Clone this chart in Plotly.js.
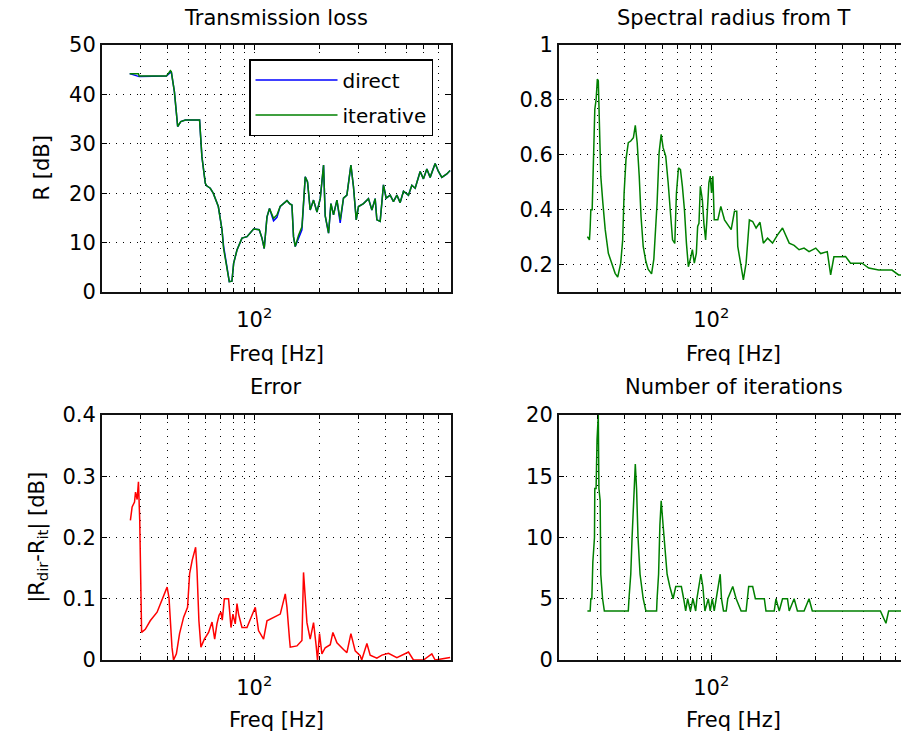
<!DOCTYPE html>
<html>
<head>
<meta charset="utf-8">
<script src="https://cdn.plot.ly/plotly-3.0.1.min.js"></script>
<style>
html,body{margin:0;padding:0;background:#fff;overflow:hidden;width:901px;height:739px;}
#chart{width:960px;height:739px;}
</style>
</head>
<body>
<div id="chart"></div>
<script>
// ---- Transmission loss (top-left) ----
var freqR = [26.8, 29.4, 29.6, 39.5, 41.2, 41.6, 43, 44.5, 46, 48.3, 56.1, 57.5, 59.6, 60.5, 62.8, 64.8, 68.4, 71.1, 72.3, 75, 76.8, 79, 80.4, 83.3, 87.8, 92.6, 99.3, 105.4, 108.5, 111.1, 114.4, 117.5, 122.6, 127.1, 131.5, 141.3, 145.2, 148.9, 151.4, 154.2, 159.7, 165.5, 171.4, 175.6, 180.6, 187.1, 194, 200.9, 208, 211.7, 219.3, 224.9, 231.1, 239.6, 248, 256.8, 266.2, 277.7, 285.4, 293.8, 300.9, 317.2, 334.4, 346.7, 358.9, 365.4, 378.4, 391.8, 403.2, 420.6, 435.5, 451.5, 467.5, 484.1, 510.3, 528.9, 547.8, 577.5, 597.9, 619.8, 641.7, 676.6, 700.5, 726.1, 765.6, 792.6];
var rIterative = [44.2, 44.2, 43.7, 43.7, 44.8, 44.6, 40.5, 33.5, 34.5, 34.8, 34.8, 27.4, 22, 21.5, 21, 20, 17.3, 12.6, 8.8, 4.5, 2.1, 2.2, 5.8, 8.5, 10.9, 11.2, 12.75, 12.6, 10.9, 8.8, 15.2, 16.9, 14.9, 15.6, 17.3, 18.5, 17.9, 17.6, 11.2, 9.2, 11.5, 13.2, 23.3, 22.3, 16.6, 18.6, 16.2, 18.95, 25.7, 15.4, 11.9, 17.9, 15.6, 18.6, 14.6, 19, 19.6, 25.7, 21.3, 14.6, 17.3, 17.9, 18.9, 16.6, 18.9, 14.6, 14.3, 21.7, 19, 19.6, 18.3, 19.6, 18.1, 20.4, 19.6, 21.6, 21, 24.4, 22.9, 24.9, 23.2, 26, 24.4, 23.2, 23.9, 24.6];
var rDirect = [44.2, 43.5, 43.6, 43.7, 44.4, 44.6, 40.5, 33.5, 34.5, 34.8, 34.8, 27.4, 22, 21.5, 21, 20, 17.3, 12.6, 9.3, 4.5, 2.1, 2.2, 5.8, 8.5, 10.9, 11.2, 12.75, 12.6, 10.9, 8.8, 15.2, 16.9, 14.4, 15.1, 17.3, 18.5, 17.9, 17.6, 11.2, 9.2, 11.0, 12.6, 23.3, 22.3, 16.6, 18.6, 16.2, 18.95, 25.7, 15.4, 11.9, 17.9, 15.6, 18.6, 14.0, 19, 19.6, 25.7, 21.3, 14.6, 17.3, 17.9, 18.9, 16.6, 18.9, 14.6, 14.3, 21.7, 19, 19.6, 18.3, 19.6, 18.1, 20.4, 19.6, 21.6, 21, 24.4, 22.9, 24.9, 23.2, 26, 24.4, 23.2, 23.9, 24.6];

// ---- Spectral radius (top-right) ----
var freqRho = [27.0, 27.6, 27.8, 28.0, 28.4, 28.8, 29.2, 29.6, 30.0, 30.3, 30.7, 31.1, 31.8, 32.6, 33.7, 35.0, 36.2, 37.2, 38.4, 39.2, 39.8, 40.6, 41.6, 42.7, 43.9, 44.8, 45.7, 46.7, 47.6, 48.7, 50.1, 51.3, 53.2, 54.5, 56.4, 57.6, 58.9, 60.1, 61.8, 63.4, 65.0, 66.4, 68.0, 69.2, 70.7, 72.2, 73.7, 75.3, 76.9, 78.5, 80.2, 81.9, 83.6, 85.4, 86.6, 87.8, 89.1, 91.0, 92.5, 94.2, 95.5, 97.5, 98.9, 100.3, 101.7, 103.2, 107.2, 110.6, 115.0, 123.4, 127.8, 130.9, 132.3, 137.1, 140.4, 144.5, 149.6, 154.9, 160.6, 167.4, 173.4, 181.3, 191.1, 201.5, 212.4, 227.9, 240.1, 253, 266.7, 281.1, 301.7, 317.9, 340.8, 353.2, 365.6, 392.4, 413.6, 435.9, 492.3, 528.3, 586.9, 675.6, 724.2, 800];
var rho = [0.302, 0.29, 0.333, 0.40, 0.40, 0.595, 0.766, 0.80, 0.876, 0.87, 0.729, 0.522, 0.424, 0.327, 0.241, 0.205, 0.168, 0.154, 0.205, 0.29, 0.461, 0.583, 0.644, 0.65, 0.662, 0.707, 0.644, 0.522, 0.375, 0.266, 0.211, 0.183, 0.166, 0.22, 0.424, 0.607, 0.674, 0.626, 0.595, 0.498, 0.363, 0.29, 0.277, 0.461, 0.552, 0.546, 0.485, 0.40, 0.278, 0.192, 0.22, 0.254, 0.205, 0.241, 0.339, 0.35, 0.485, 0.437, 0.35, 0.29, 0.363, 0.498, 0.522, 0.461, 0.522, 0.363, 0.363, 0.412, 0.363, 0.327, 0.394, 0.394, 0.266, 0.192, 0.144, 0.205, 0.363, 0.357, 0.333, 0.354, 0.278, 0.296, 0.278, 0.308, 0.333, 0.278, 0.27, 0.254, 0.26, 0.247, 0.26, 0.24, 0.247, 0.162, 0.228, 0.228, 0.229, 0.205, 0.205, 0.187, 0.18, 0.18, 0.162, 0.16];

// ---- Error (bottom-left) ----
var freqErr = [27.0, 27.5, 28.2, 28.5, 29.0, 29.4, 29.8, 30.2, 30.4, 31.6, 33.3, 35.8, 37.7, 39.8, 40.6, 41.2, 41.9, 42.6, 43.9, 45.4, 47.4, 49.4, 50.5, 51.9, 53.1, 53.8, 54.6, 55.7, 56.9, 59.0, 61.7, 64.0, 65.8, 67.4, 68.9, 70.3, 71.3, 72.9, 76.2, 78.2, 79.8, 81.8, 83.3, 84.7, 87.8, 92.6, 97.6, 101.1, 104.6, 110.3, 114.4, 122.6, 131.6, 138.8, 141.3, 145.2, 146.3, 157.0, 165.5, 168.3, 171.4, 174.5, 180.6, 187.1, 192.4, 195.1, 199.3, 204.4, 211.7, 223.2, 229.6, 239.6, 256.8, 266.2, 277.7, 290.6, 306.4, 311.4, 328.9, 340.5, 365.4, 385.3, 413.1, 451.5, 510.3, 538.0, 597.9, 653.3, 676.6, 738.9, 765.6, 792.6];
var errDb = [0.228, 0.25, 0.258, 0.274, 0.262, 0.291, 0.228, 0.108, 0.045, 0.05, 0.064, 0.078, 0.097, 0.119, 0.102, 0.059, 0.021, 0.0, 0.01, 0.043, 0.07, 0.086, 0.141, 0.163, 0.174, 0.184, 0.146, 0.064, 0.021, 0.034, 0.045, 0.062, 0.034, 0.059, 0.073, 0.078, 0.065, 0.10, 0.10, 0.053, 0.075, 0.059, 0.092, 0.075, 0.053, 0.053, 0.073, 0.086, 0.048, 0.034, 0.064, 0.07, 0.075, 0.108, 0.086, 0.033, 0.021, 0.023, 0.032, 0.143, 0.097, 0.061, 0.034, 0.061, 0.023, 0.0, 0.043, 0.01, 0.02, 0.025, 0.045, 0.028, 0.017, 0.012, 0.043, 0.015, 0.007, 0.0, 0.027, 0.008, 0.003, 0.008, 0.011, 0.004, 0.013, 0.0, 0.0, 0.01, 0.0, 0.002, 0.002, 0.004];

// ---- Number of iterations (bottom-right) ----
var freqIter = [27.0, 27.8, 28.0, 28.3, 28.6, 29.1, 29.2, 29.6, 29.9, 30.3, 30.5, 30.9, 31.1, 31.7, 32.3, 41.6, 41.9, 42.7, 43.3, 44.2, 44.8, 45.4, 46.1, 47.1, 47.9, 48.7, 50.1, 56.1, 56.4, 57.3, 58.1, 58.9, 60.1, 61.4, 62.7, 64.5, 66.8, 68.7, 72.9, 74.7, 76.3, 77.9, 80.2, 82.4, 84.8, 85.9, 87.8, 89.6, 91.5, 93.5, 96.9, 98.9, 101.1, 103.2, 105.4, 107.6, 109.9, 111.4, 113.8, 117.1, 119.1, 125.5, 130.1, 137.1, 144.5, 148.5, 154.9, 159.4, 175.2, 178.3, 194.5, 198.1, 205.1, 212.4, 223.8, 227.9, 240.1, 248.6, 266.7, 281.1, 291.0, 597.5, 633.6, 652.0, 800];
var iterations = [4, 4, 5, 5, 8, 10, 14, 14, 18, 20, 14, 13, 7, 5, 4, 4, 5, 7, 10, 14, 16, 14, 10, 7, 6, 5, 4, 4, 5, 7, 11, 13, 11, 9, 7, 6, 5, 6, 6, 5, 4, 5, 4, 5, 4, 5, 6, 7, 6, 4, 5, 4, 5, 4, 5, 6, 7, 5, 4, 4, 5, 6, 5, 4, 4, 6, 6, 5, 5, 4, 4, 5, 4, 5, 5, 4, 5, 4, 4, 5, 4, 4, 3, 4, 4];

// ---- tick labels ----
var xTickVals = [100];
var xTickText = ['10<sup>2</sup>'];

var FONT = 'DejaVu Sans, Liberation Sans, Arial, sans-serif';
var FS = 21;

function xAxis(domain, anchor) {
  return {
    type: 'log', domain: domain, anchor: anchor,
    range: [Math.log10(20), Math.log10(800)],
    tickmode: 'array', tickvals: xTickVals, ticktext: xTickText,
    ticks: 'inside', ticklen: 5, tickcolor: '#000', tickwidth: 1, ticklabelstandoff: 8,
    showline: true, linecolor: '#111', linewidth: 2, mirror: 'allticks',
    showgrid: true, gridcolor: '#000', gridwidth: 1, griddash: '1px,6px',
    minor: {dtick: 'D1', ticks: 'inside', ticklen: 4, tickcolor: '#000',
            showgrid: true, gridcolor: '#000', gridwidth: 1, griddash: '1px,6px'},
    zeroline: false, fixedrange: true,
    tickfont: {family: FONT, size: FS, color: '#000'}
  };
}
function yAxis(domain, anchor, range, vals, text) {
  return {
    domain: domain, anchor: anchor, range: range,
    tickmode: 'array', tickvals: vals, ticktext: text,
    ticks: 'inside', ticklen: 5, tickcolor: '#000', tickwidth: 1,
    showline: true, linecolor: '#111', linewidth: 2, mirror: 'allticks',
    showgrid: true, gridcolor: '#000', gridwidth: 1, griddash: '1px,6px',
    zeroline: false, fixedrange: true,
    tickfont: {family: FONT, size: FS, color: '#000'}
  };
}

var dLeft = [0, 0.433], dRight = [0.567, 1];
var dTop = [0.5984, 1], dBot = [0, 0.3984];

var traces = [
  {x: freqR, y: rDirect, type: 'scatter', mode: 'lines', name: 'direct',
   line: {color: '#0000ff', width: 1.5}, xaxis: 'x', yaxis: 'y', legendgroup: 'a'},
  {x: freqR, y: rIterative, type: 'scatter', mode: 'lines', name: 'iterative',
   line: {color: '#008000', width: 1.5}, xaxis: 'x', yaxis: 'y', legendgroup: 'b'},
  {x: freqRho, y: rho, type: 'scatter', mode: 'lines', name: 'rho', showlegend: false,
   line: {color: '#008000', width: 1.5}, xaxis: 'x2', yaxis: 'y2'},
  {x: freqErr, y: errDb, type: 'scatter', mode: 'lines', name: 'error', showlegend: false,
   line: {color: '#ff0000', width: 1.5}, xaxis: 'x3', yaxis: 'y3'},
  {x: freqIter, y: iterations, type: 'scatter', mode: 'lines', name: 'iterations', showlegend: false,
   line: {color: '#008000', width: 1.5}, xaxis: 'x4', yaxis: 'y4'}
];

function ann(text, x, y, opts) {
  var a = {text: text, x: x, y: y, xref: 'paper', yref: 'paper', showarrow: false,
           xanchor: 'center', font: {family: FONT, size: FS, color: '#000'}};
  for (var k in opts) a[k] = opts[k];
  return a;
}
var cl = (dLeft[0] + dLeft[1]) / 2, cr = (dRight[0] + dRight[1]) / 2;

var layout = {
  width: 960, height: 739,
  margin: {l: 102, r: 52, t: 45, b: 79},
  paper_bgcolor: '#fff', plot_bgcolor: '#fff',
  font: {family: FONT, size: FS, color: '#000'},
  showlegend: true,
  legend: {x: 0.1824, y: 0.9772, xanchor: 'left', yanchor: 'top',
           bgcolor: '#fff', bordercolor: '#000', borderwidth: 1.5,
           font: {family: FONT, size: 20, color: '#000'},
           itemwidth: 82, traceorder: 'grouped', tracegroupgap: 6},
  xaxis: xAxis(dLeft, 'y'),
  yaxis: yAxis(dTop, 'x', [0, 50], [0, 10, 20, 30, 40, 50], ['0', '10', '20', '30', '40', '50']),
  xaxis2: xAxis(dRight, 'y2'),
  yaxis2: yAxis(dTop, 'x2', [0.1, 1], [0.2, 0.4, 0.6, 0.8, 1], ['0.2', '0.4', '0.6', '0.8', '1']),
  xaxis3: xAxis(dLeft, 'y3'),
  yaxis3: yAxis(dBot, 'x3', [0, 0.4], [0, 0.1, 0.2, 0.3, 0.4], ['0', '0.1', '0.2', '0.3', '0.4']),
  xaxis4: xAxis(dRight, 'y4'),
  yaxis4: yAxis(dBot, 'x4', [0, 20], [0, 5, 10, 15, 20], ['0', '5', '10', '15', '20']),
  annotations: [
    ann('Transmission loss', cl, dTop[1], {yanchor: 'bottom', yshift: 13}),
    ann('Spectral radius from T', cr, dTop[1], {yanchor: 'bottom', yshift: 13}),
    ann('Error', cl, dBot[1], {yanchor: 'bottom', yshift: 14}),
    ann('Number of iterations', cr, dBot[1], {yanchor: 'bottom', yshift: 14}),
    ann('Freq [Hz]', cl, dTop[0], {yanchor: 'middle', yshift: -62}),
    ann('Freq [Hz]', cr, dTop[0], {yanchor: 'middle', yshift: -62}),
    ann('Freq [Hz]', cl, dBot[0], {yanchor: 'middle', yshift: -60}),
    ann('Freq [Hz]', cr, dBot[0], {yanchor: 'middle', yshift: -60}),
    ann('R [dB]', -0.0744, (dTop[0] + dTop[1]) / 2, {textangle: -90, yanchor: 'middle'}),
    ann('|R<sub>dir</sub>-R<sub>it</sub>| [dB]', -0.0790, (dBot[0] + dBot[1]) / 2, {textangle: -90, yanchor: 'middle'})
  ]
};

Plotly.newPlot('chart', traces, layout, {staticPlot: true, displayModeBar: false});
</script>
</body>
</html>
